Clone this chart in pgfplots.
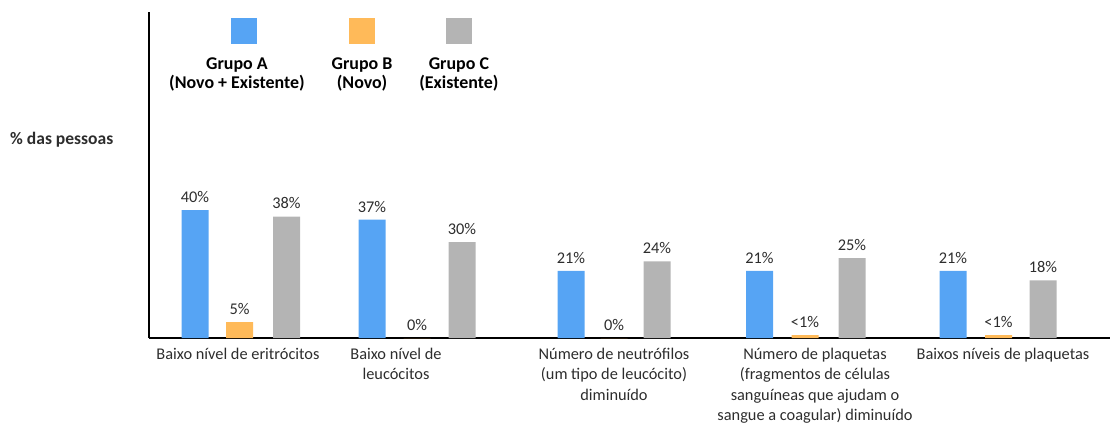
\documentclass[border=0pt]{standalone}
\usepackage{pgfplots}
\pgfplotsset{compat=1.18}
\usepackage{fontspec}
\setmainfont{Carlito}
\definecolor{grpA}{RGB}{86,164,244}
\definecolor{grpB}{RGB}{255,186,89}
\definecolor{grpC}{RGB}{180,180,180}
\definecolor{txt}{RGB}{45,45,45}
\newcommand{\legkey}[1]{{\color{#1}\rule{26bp}{26bp}}}

\begin{document}
\begin{tikzpicture}[x=1bp,y=1bp]
\useasboundingbox (0,0) rectangle (1111,424);
\begin{axis}[
  at={(149bp,86bp)}, anchor=south west,
  scale only axis, width=961bp, height=326bp,
  xmin=149, xmax=1110, ymin=0, ymax=102,
  axis x line=bottom, axis y line=left,
  axis line style={-, line width=1.6bp, black},
  ytick=\empty,
  xtick={238,396,614,815,1003},
  xticklabels={
    {Baixo nível de eritrócitos},
    {Baixo nível de\\leucócitos},
    {Número de neutrófilos\\(um tipo de leucócito)\\diminuído},
    {Número de plaquetas\\(fragmentos de células\\sanguíneas que ajudam o\\sangue a coagular) diminuído},
    {Baixos níveis de plaquetas}},
  major tick length=0pt,
  xticklabel style={align=center, anchor=north, font=\fontsize{16.4}{20.2}\selectfont, text=txt, yshift=-7bp},
  ybar,
  bar width=27,
  clip=false,
  nodes near coords,
  point meta=explicit symbolic,
  every node near coord/.append style={font=\fontsize{16.4}{19}\selectfont, text=txt, yshift=4bp},
  legend columns=3,
  legend style={at={(-0.0052,0.9877)}, anchor=north west, draw=none, fill=none,
    inner sep=0pt, cells={align=center},
    font=\bfseries\fontsize{18}{18.5}\selectfont,
    /tikz/every even column/.append style={column sep=0pt},
    /tikz/every odd column/.append style={column sep=23bp}},
]
% Grupo A (Novo + Existente)
\addplot[fill=grpA, draw=none, bar shift=0pt, legend image code/.code={}]
  coordinates {(195,40) [40\%] (372,37) [37\%] (571,21) [21\%] (759.5,21) [21\%] (953,21) [21\%]};
\addlegendentry{\hspace*{15bp}\legkey{grpA}\\[7bp]Grupo A\\(Novo + Existente)}
% Grupo B (Novo)
\addplot[fill=grpB, draw=none, bar shift=0pt, legend image code/.code={}]
  coordinates {(239.5,5) [5\%] (417,0) [0\%] (614,0) [0\%] (805,0.9) [<1\%] (998.5,0.9) [<1\%]};
\addlegendentry{\legkey{grpB}\\[7bp]Grupo B\\(Novo)}
% Grupo C (Existente)
\addplot[fill=grpC, draw=none, bar shift=0pt, legend image code/.code={}]
  coordinates {(286.5,38) [38\%] (462,30) [30\%] (657,24) [24\%] (852,25) [25\%] (1043,18) [18\%]};
\addlegendentry{\legkey{grpC}\\[7bp]Grupo C\\(Existente)}
\end{axis}
\node[anchor=west, font=\bfseries\fontsize{17.6}{20}\selectfont, text=txt, inner sep=0pt] at (10,284) {\% das pessoas};
\end{tikzpicture}
\end{document}
